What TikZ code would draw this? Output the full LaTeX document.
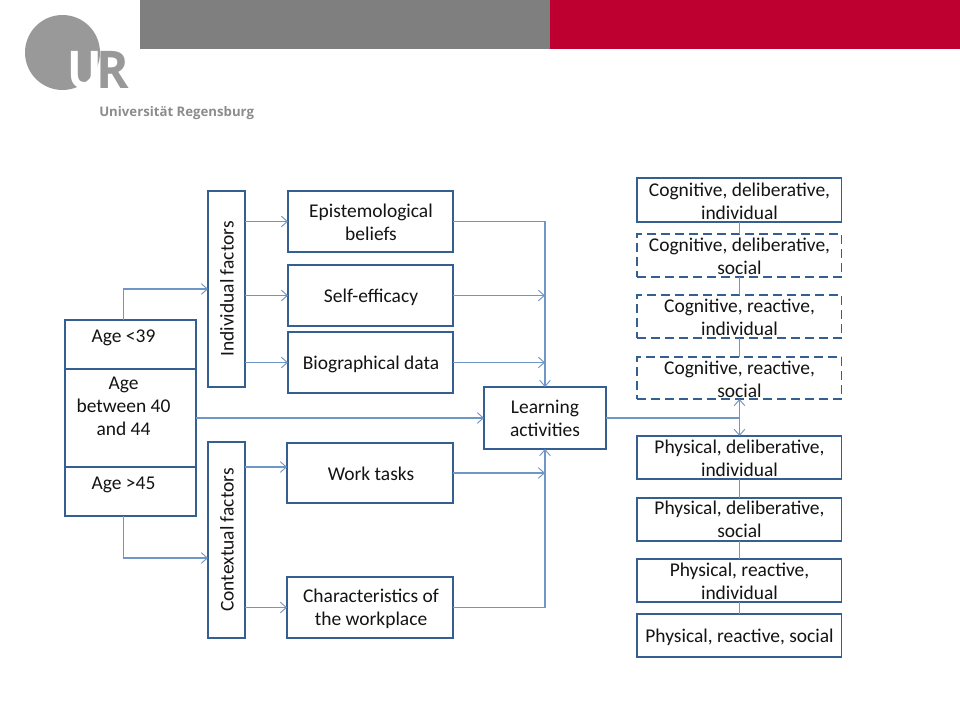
\documentclass[tikz,border=0pt]{standalone}
\usepackage{fontspec}
\setmainfont{Carlito}
\newfontfamily\logofont{Open Sans}
\usetikzlibrary{arrows.meta}
\definecolor{boxc}{HTML}{365F91}
\definecolor{linec}{HTML}{7096C6}
\definecolor{txtc}{HTML}{141414}
\definecolor{urgray}{HTML}{7F7F7F}
\definecolor{urred}{HTML}{BD0030}
\definecolor{logoc}{HTML}{999999}
\tikzset{
  x=0.75pt,y=-0.75pt,
  frame/.style={draw=boxc,line width=1.8pt,fill=white,inner sep=0pt,outer sep=0pt},
  dashframe/.style={frame,line width=1.6pt,dash pattern=on 6.75pt off 3.75pt},
  lbl/.style={font=\fontsize{14.6pt}{17.3pt}\selectfont,text=txtc,align=center,inner sep=0pt},
  conn/.style={draw=linec,line width=1pt},
  arr/.style={conn,-{Straight Barb[length=4.5pt,width=8pt,line width=0.7pt]}}
}
\newcommand{\bx}[6][frame]{%
  \node[#1,minimum width=(#5-#3)*0.75pt,minimum height=(#6-#4)*0.75pt,anchor=north west] (#2) at (#3,#4) {};
}
\begin{document}
\begin{tikzpicture}
\useasboundingbox (0,0) rectangle (960,720);
% header
\fill[urgray] (140,0) rectangle (550,49);
\fill[urred] (550,0) rectangle (960,49);
% logo
\fill[logoc] (62.5,52.5) circle (37.5);
\node[font=\logofont\bfseries\fontsize{39pt}{40pt}\selectfont,text=white,anchor=base,inner sep=0pt,xscale=0.88] (logoU) at (85,88.5) {U};
\node[font=\logofont\bfseries\fontsize{39pt}{40pt}\selectfont,text=logoc,anchor=base west,inner sep=0pt,xscale=0.95] (logoR) at (96,88.5) {R};
\node[font=\logofont\bfseries\fontsize{9.9pt}{12pt}\selectfont,text=urgray!90!white,anchor=west,inner sep=0pt] (uni) at (99,113.5) {Universität Regensburg};
% boxes
\bx{ind}{208}{191}{245}{387}
\bx{con}{208}{442}{245}{638}
\bx{epi}{288}{191}{453}{252}
\bx{sel}{288}{265}{453}{326}
\bx{bio}{288}{332}{453}{393}
\bx{wor}{287}{443}{453}{503}
\bx{cha}{287}{577}{453}{638}
\bx{lea}{484}{387}{606}{449}
\bx{age1}{65}{320}{196}{369}
\bx{age2}{65}{369}{196}{467}
\bx{age3}{65}{467}{196}{516}
\bx{c1}{637}{178}{842}{222}
\bx[dashframe]{c2}{637}{234}{842}{277}
\bx[dashframe]{c3}{637}{295}{842}{338}
\bx[dashframe]{c4}{637}{357}{842}{399}
\bx{p1}{637}{436}{842}{479}
\bx{p2}{637}{498}{842}{541}
\bx{p3}{637}{559}{842}{602}
\bx{p4}{637}{614}{842}{657}
% thin right edge of the right column
\fill[white] (842,170) rectangle (850,665);
% helper heights
\coordinate (h1) at (0,289);
\coordinate (h2) at (0,558);
\coordinate (h3) at (0,467);
\coordinate (j) at (c4.south |- lea.east);
% labels
\node[lbl,rotate=90] (tind) at (227,289) {Individual factors};
\node[lbl,rotate=90] (tcon) at (227,540) {Contextual factors};
\node[lbl] (tepi) at (371,222.5) {Epistemological\\beliefs};
\node[lbl] (tsel) at (371,297.5) {Self-efficacy};
\node[lbl] (tbio) at (371,364.5) {Biographical data};
\node[lbl] (twor) at (371,474) {Work tasks};
\node[lbl] (tcha) at (371,608.5) {Characteristics of\\the workplace};
\node[lbl] (tlea) at (545,418.5) {Learning\\activities};
\node[lbl] (tage1) at (123.5,338) {Age <39};
\node[lbl] (tage2) at (123.5,406.5) {Age\\between 40\\and 44};
\node[lbl] (tage3) at (123.5,485) {Age >45};
\node[lbl] (tc1) at (739.5,201.5) {Cognitive, deliberative,\\individual};
\node[lbl] (tc2) at (739.5,256.5) {Cognitive, deliberative,\\social};
\node[lbl] (tc3) at (739.5,317.5) {Cognitive, reactive,\\individual};
\node[lbl] (tc4) at (739.5,379) {Cognitive, reactive,\\social};
\node[lbl] (tp1) at (739.5,458.5) {Physical, deliberative,\\individual};
\node[lbl] (tp2) at (739.5,519) {Physical, deliberative,\\social};
\node[lbl] (tp3) at (739.5,581) {Physical, reactive,\\individual};
\node[lbl] (tp4) at (739.5,637.5) {Physical, reactive, social};
% connectors
\draw[arr] (tage1 |- age1.north) |- (ind.west |- h1);
\draw[arr] (tage3 |- age3.south) |- (con.west |- h2);
\draw[arr] (age2.east) -- (lea.west);
\draw[arr] (ind.east |- epi.west) -- (epi.west);
\draw[arr] (ind.east |- sel.west) -- (sel.west);
\draw[arr] (ind.east |- bio.west) -- (bio.west);
\draw[arr] (con.east |- h3) -- (wor.west |- h3);
\draw[arr] (con.east |- cha.west) -- (cha.west);
\draw[arr] (epi.east) -| (lea.north);
\draw[arr] (sel.east) -- (lea.north |- sel.east);
\draw[arr] (bio.east) -- (lea.north |- bio.east);
\draw[arr] (wor.east) -- (lea.south |- wor.east);
\draw[arr] (cha.east) -| (lea.south);
\draw[conn] (lea.east) -- (j);
\draw[arr] (j) -- (c4.south);
\draw[arr] (j) -- (p1.north);
\draw[conn] (c1.south) -- (c2.north);
\draw[conn] (c2.south) -- (c3.north);
\draw[conn] (c3.south) -- (c4.north);
\draw[conn] (p1.south) -- (p2.north);
\draw[conn] (p2.south) -- (p3.north);
\draw[conn] (p3.south) -- (p4.north);
\end{tikzpicture}
\end{document}
